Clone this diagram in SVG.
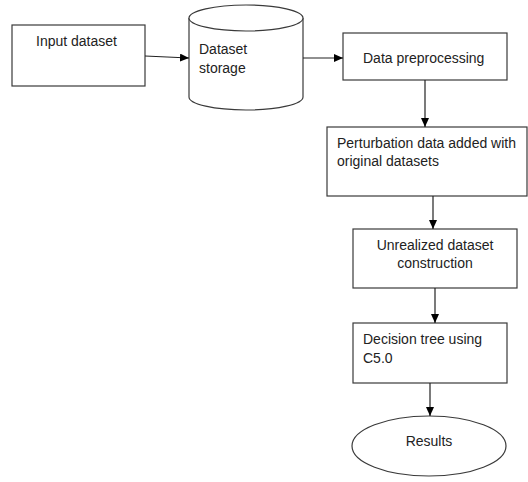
<svg xmlns="http://www.w3.org/2000/svg" width="528" height="482" viewBox="0 0 528 482">
<defs>
<marker id="ah" markerWidth="10" markerHeight="8" refX="9" refY="4" orient="auto" markerUnits="userSpaceOnUse">
<path d="M0,0 L9,4 L0,8 Z" fill="#000"/>
</marker>
<style>
.box{fill:#fff;stroke:#3a3a3a;stroke-width:1.2}
.t{font-family:"Liberation Sans",Arial,sans-serif;font-size:14px;fill:#222}
.c{stroke:#222;stroke-width:1.2;fill:none;marker-end:url(#ah)}
</style>
</defs>
<rect width="528" height="482" fill="#fff"/>
<g id="input">
<rect class="box" x="12" y="25" width="133" height="61"/>
<text class="t" x="36" y="46">Input dataset</text>
</g>
<g id="storage">
<path class="box" d="M189,18 L189,97 A57,13 0 0 0 303,97 L303,18"/>
<ellipse class="box" cx="246" cy="18" rx="57" ry="13"/>
<text class="t" x="199" y="54">Dataset</text>
<text class="t" x="199" y="73">storage</text>
</g>
<g id="preprocess">
<rect class="box" x="343" y="33" width="164" height="47"/>
<text class="t" x="363" y="63">Data preprocessing</text>
</g>
<g id="perturb">
<rect class="box" x="327" y="127" width="200" height="69"/>
<text class="t" x="337" y="148">Perturbation data added with</text>
<text class="t" x="337" y="166">original datasets</text>
</g>
<g id="unrealized">
<rect class="box" x="353" y="229" width="164" height="59"/>
<text class="t" x="435" y="250" text-anchor="middle">Unrealized dataset</text>
<text class="t" x="435" y="268" text-anchor="middle">construction</text>
</g>
<g id="decision">
<rect class="box" x="353" y="323" width="154" height="60"/>
<text class="t" x="363" y="344">Decision tree using</text>
<text class="t" x="363" y="363">C5.0</text>
</g>
<g id="results">
<ellipse class="box" cx="429" cy="446" rx="77" ry="30"/>
<text class="t" x="429" y="446" text-anchor="middle">Results</text>
</g>
<g id="connectors">
<path class="c" d="M145,56 L189,58"/>
<path class="c" d="M303,58 L343,58"/>
<path class="c" d="M425,80 L425,127"/>
<path class="c" d="M433,196 L433,229"/>
<path class="c" d="M435,288 L435,323"/>
<path class="c" d="M430,383 L430,416"/>
</g>
</svg>
